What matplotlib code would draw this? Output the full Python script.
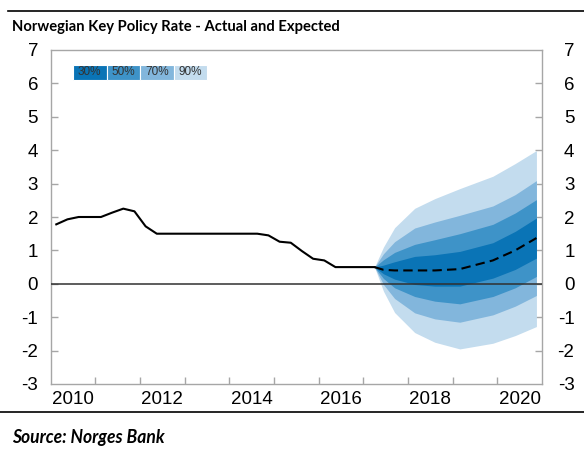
import numpy as np
import matplotlib
matplotlib.use("Agg")
import matplotlib.pyplot as plt
from matplotlib.patches import Rectangle
from matplotlib import font_manager
import matplotlib.transforms as mtrans

# ---------------- data ----------------
actual_t = [2010.125, 2010.375, 2010.625, 2010.875,
            2011.125, 2011.375, 2011.625, 2011.875,
            2012.125, 2012.375, 2012.625, 2012.875,
            2013.125, 2013.375, 2013.625, 2013.875,
            2014.125, 2014.375, 2014.625, 2014.875,
            2015.125, 2015.375, 2015.625, 2015.875,
            2016.125, 2016.375, 2016.625, 2016.875,
            2017.125, 2017.25]
actual_v = [1.78, 1.93, 2.00, 2.00,
            2.00, 2.13, 2.25, 2.17,
            1.72, 1.50, 1.50, 1.50,
            1.50, 1.50, 1.50, 1.50,
            1.50, 1.50, 1.50, 1.45,
            1.26, 1.23, 0.98, 0.75,
            0.70, 0.50, 0.50, 0.50,
            0.50, 0.50]

fan_t = [2017.25, 2017.45, 2017.7, 2018.15, 2018.6, 2019.16, 2019.9, 2020.4, 2020.875]
median = [0.50, 0.42, 0.40, 0.40, 0.40, 0.44, 0.70, 1.00, 1.37]
p30_hi = [0.50, 0.56, 0.66, 0.82, 0.87, 0.97, 1.23, 1.57, 1.97]
p30_lo = [0.50, 0.30, 0.14, -0.02, -0.07, -0.07, 0.17, 0.43, 0.77]
p50_hi = [0.50, 0.72, 0.94, 1.18, 1.32, 1.50, 1.78, 2.12, 2.52]
p50_lo = [0.50, 0.16, -0.12, -0.38, -0.52, -0.60, -0.38, -0.12, 0.22]
p70_hi = [0.50, 0.90, 1.26, 1.67, 1.85, 2.05, 2.33, 2.67, 3.09]
p70_lo = [0.50, -0.02, -0.44, -0.87, -1.05, -1.15, -0.93, -0.67, -0.35]
p90_hi = [0.50, 1.10, 1.68, 2.26, 2.55, 2.85, 3.22, 3.60, 3.99]
p90_lo = [0.50, -0.22, -0.86, -1.46, -1.75, -1.95, -1.78, -1.55, -1.28]

band_labels = ["30%", "50%", "70%", "90%"]
band_colors = ["#0a74b6", "#3e93c8", "#82b6dc", "#c3dcee"]

year_ticks = list(range(2011, 2021))
label_years = [2010, 2012, 2014, 2016, 2018, 2020]
y_ticks = list(range(-3, 8))

title = "Norwegian Key Policy Rate - Actual and Expected"
source = "Source: Norges Bank"

# ---------------- fonts ----------------
avail = {f.name for f in font_manager.fontManager.ttflist}
if "Liberation Sans Narrow" in avail:
    head_font = "Liberation Sans Narrow"
elif "Lato" in avail:
    head_font = "Lato"
else:
    head_font = "Liberation Sans"
plt.rcParams['font.family'] = ['Liberation Sans', 'DejaVu Sans']

# ---------------- figure ----------------
W, H = 584, 449
fig = plt.figure(figsize=(W / 100, H / 100), dpi=100)
fig.patch.set_facecolor("white")
ax = fig.add_axes([50.7 / W, 1 - 384 / H, (542 - 50.7) / W, (384 - 50) / H])

# fan (outermost first)
bands = [(p90_lo, p90_hi), (p70_lo, p70_hi), (p50_lo, p50_hi), (p30_lo, p30_hi)]
for (lo, hi), c in zip(bands, band_colors[::-1]):
    ax.fill_between(fan_t, lo, hi, color=c, linewidth=0, zorder=2)

ax.axhline(0, color="#303030", linewidth=1.1, zorder=3)
ax.plot(actual_t, actual_v, color="black", linewidth=1.5, zorder=4)
ax.plot(fan_t, median, color="black", linewidth=1.5, linestyle=(0, (4.5, 2.5)), zorder=4)

ax.set_xlim(2010, 2021)
ax.set_ylim(-3, 7)

for s in ax.spines.values():
    s.set_color("#a6a6a6")
    s.set_linewidth(1.0)

# x ticks: year boundaries (inward, no labels), labels centred in years
ax.set_xticks(year_ticks)
ax.set_xticklabels([])
ax.set_xticks([y + 0.5 for y in label_years], minor=True)
ax.set_xticklabels([str(y) for y in label_years], minor=True)
ax.tick_params(axis="x", which="major", direction="in", length=5, color="#a6a6a6", width=1)
ax.tick_params(axis="x", which="minor", length=0, pad=5, labelsize=13.5)

ax.set_yticks(y_ticks)
ax.set_yticklabels([str(v) for v in y_ticks])
ax.tick_params(axis="y", direction="in", length=5, color="#a6a6a6", width=1,
               left=True, right=True, labelleft=True, labelright=True,
               labelsize=13.5, pad=9)
offset = mtrans.ScaledTranslation(20 / 100, 0, fig.dpi_scale_trans)
for t in ax.yaxis.get_major_ticks():
    t.label2.set_horizontalalignment("right")
    t.label2.set_transform(t.label2.get_transform() + offset)
    if t.get_loc() in (-3, 7):
        t.tick1line.set_visible(False)
        t.tick2line.set_visible(False)

# legend boxes
bx0 = (73 - 50.7) / 491.3
bw = 33.5 / 491.3
by0 = 1 - (80 - 50) / 334
bh = 15.5 / 334
for i, (lab, c) in enumerate(zip(band_labels, band_colors)):
    ax.add_patch(Rectangle((bx0 + i * bw, by0), bw, bh, transform=ax.transAxes,
                           facecolor=c, edgecolor="white", linewidth=0.8, zorder=5))
    ax.text(bx0 + (i + 0.5) * bw, by0 + bh / 2, lab, transform=ax.transAxes,
            ha="center", va="center", fontsize=8.5, color="#333333", zorder=6)

# title and source
tt = fig.text(12 / W, 1 - 31 / H, title, fontsize=14, fontweight="bold",
              family=[head_font, "DejaVu Sans"], va="baseline", ha="left")
st = fig.text(12 / W, 1 - 443 / H, source, fontsize=12, fontweight="bold", style="italic",
              family=[head_font, "DejaVu Sans"], va="baseline", ha="left")
fig.canvas.draw()
r = fig.canvas.get_renderer()
w = tt.get_window_extent(r).width
tt.set_fontsize(14 * 328 / w)
w = st.get_window_extent(r).width
st.set_fontsize(12 * 153 / w)

# horizontal rules
fig.add_artist(plt.Line2D([8 / W, 1], [1 - 10.5 / H] * 2, color="black", linewidth=1.2,
                          transform=fig.transFigure))
fig.add_artist(plt.Line2D([0, 1], [1 - 412 / H] * 2, color="black", linewidth=1.2,
                          transform=fig.transFigure))

fig.savefig("out.png", dpi=100)
